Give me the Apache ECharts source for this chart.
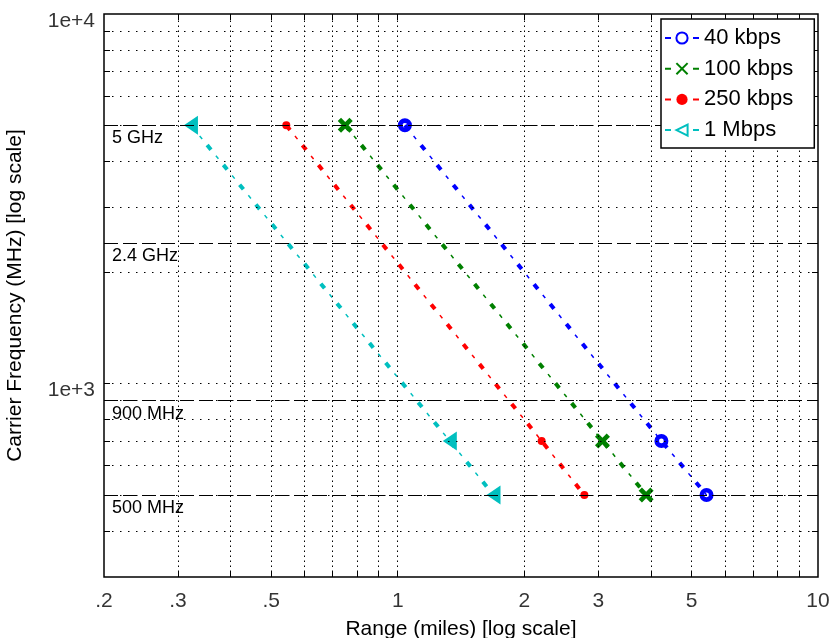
<!DOCTYPE html>
<html>
<head>
<meta charset="utf-8">
<script src="https://cdn.jsdelivr.net/npm/echarts@6/dist/echarts.min.js"></script>
<style>
  html, body { margin: 0; padding: 0; background: #fff; }
  #chart { width: 831px; height: 638px; }
</style>
</head>
<body>
<div id="chart"></div>
<script>
// values
const freqPts = [5000, 700, 500];          // MHz, where the markers sit
const range40k = [1.04, 4.24, 5.43];       // miles
const range100k = [0.75, 3.07, 3.90];
const range250k = [0.543, 2.2, 2.78];
const range1M = [0.322, 1.33, 1.69];

const xTickVals = [0.2, 0.3, 0.5, 1, 2, 3, 5, 10];
const xTickLabels = ['.2', '.3', '.5', '1', '2', '3', '5', '10'];
const yTickVals = [1000, 10000];
const yTickLabels = ['1e+3', '1e+4'];
const xGrid = [0.3, 0.4, 0.5, 0.6, 0.7, 0.8, 0.9, 1, 2, 3, 4, 5, 6, 7, 8, 9];
const yGrid = [400, 500, 600, 700, 800, 900, 1000, 2000, 3000, 4000, 5000, 6000, 7000, 8000, 9000];
const refFreqs = [5000, 2400, 900, 500];
const refLabels = ['5 GHz', '2.4 GHz', '900 MHz', '500 MHz'];

const names = ['40 kbps', '100 kbps', '250 kbps', '1 Mbps'];
const colors = ['#0000ff', '#008000', '#ff0000', '#00bfbf'];
const ranges = [range40k, range100k, range250k, range1M];
const symbols = [
  'path://M0,5A5,5 0 1 0 10,5A5,5 0 1 0 0,5ZM3.3,5A1.7,1.7 0 1 1 6.7,5A1.7,1.7 0 1 1 3.3,5Z',
  'path://M2.2,0L5,2.8L7.8,0L10,2.2L7.2,5L10,7.8L7.8,10L5,7.2L2.2,10L0,7.8L2.8,5L0,2.2Z',
  'circle',
  'path://M0,5L10,0L10,10Z'
];
const symbolSizes = [14, 15, 8, [14, 19]];
// thin symbols used only by the legend
const legendSymbols = [
  'path://M0,5A5,5 0 1 0 10,5A5,5 0 1 0 0,5Z',
  'path://M0,0L10,10M10,0L0,10',
  'circle',
  'path://M0,5L10,0L10,10Z'
];
const legendSizes = [12, 11, 7, [10, 12]];

const FONT = '"Liberation Sans", Arial, Helvetica, sans-serif';
const X_MIN = 0.2, X_MAX = 10, Y_MIN = 300, Y_MAX = 10000;

let chart = echarts.init(document.getElementById('chart'));

let gridLines = xGrid.map(v => ({ xAxis: v, lineStyle: { type: [1.5, 3.5] } }))
  .concat(yGrid.map(v => ({ yAxis: v, lineStyle: { type: [1.5, 6.5] } })));

let series = [];

// legend carriers: first series with each name, no data
names.forEach((n, i) => {
  series.push({
    name: n,
    type: 'line',
    data: [],
    symbol: legendSymbols[i],
    symbolSize: legendSizes[i],
    itemStyle: i === 2
      ? { color: colors[i], borderWidth: 0 }
      : { color: '#fff', borderColor: colors[i], borderWidth: 1.2 },
    lineStyle: { color: colors[i], width: 1.5, type: [6, 22] }
  });
});

// grid lines, reference lines and tick labels
series.push({
  type: 'scatter',
  silent: true,
  symbolSize: 0,
  data: xTickVals.map(v => [v, Y_MIN]),
  label: {
    show: true, position: 'bottom', distance: 14,
    color: '#000', fontSize: 21, fontFamily: FONT,
    formatter: p => xTickLabels[p.dataIndex]
  },
  markLine: {
    silent: true, symbol: 'none',
    label: { show: false },
    lineStyle: { color: '#000', width: 1 },
    data: gridLines
  },
  z: 1
});
series.push({
  type: 'scatter',
  silent: true,
  symbolSize: 0,
  data: yTickVals.map(v => [X_MIN, v]),
  label: {
    show: true, position: 'left', distance: 9, offset: [0, 7],
    color: '#000', fontSize: 21, fontFamily: FONT,
    formatter: p => yTickLabels[p.dataIndex]
  },
  markLine: {
    silent: true, symbol: 'none',
    lineStyle: { color: '#000', width: 1, type: [14, 5] },
    label: {
      show: true, position: 'insideStartBottom', distance: [8, 4],
      color: '#000', fontSize: 18, fontFamily: FONT,
      formatter: p => refLabels[refFreqs.indexOf(p.value)]
    },
    data: refFreqs.map(v => ({ yAxis: v }))
  },
  z: 2
});

names.forEach((n, i) => {
  let pts = ranges[i].map((r, k) => [r, freqPts[k]]);
  // thin dashes between the heavy dots
  series.push({
    type: 'line',
    silent: true,
    showSymbol: false,
    data: pts,
    lineStyle: { color: colors[i], width: 1.5, type: [4, 21.6], dashOffset: 11.8, cap: 'butt' },
    z: 3
  });
  series.push({
    name: n,
    type: 'line',
    data: pts,
    symbol: symbols[i],
    symbolSize: symbolSizes[i],
    showSymbol: true,
    itemStyle: { color: colors[i], borderWidth: 0 },
    lineStyle: { color: colors[i], width: 4, type: [6, 19.6], cap: 'butt' },
    z: 4
  });
});

function logAxis(pos, min, max, ticks, extra) {
  return Object.assign({
    type: 'log', logBase: 10, min: min, max: max, position: pos,
    axisLine: { show: false },
    axisTick: { show: true, inside: true, length: 6, customValues: ticks, lineStyle: { color: '#000', width: 1 } },
    axisLabel: { show: false }, splitLine: { show: false }
  }, extra || {});
}
const titleStyle = { color: '#000', fontSize: 21, fontFamily: FONT };

let option = {
  animation: false,
  backgroundColor: '#fff',
  textStyle: { fontFamily: FONT },
  grid: {
    left: 104, top: 14, right: 13, bottom: 61,
    outerBoundsMode: 'none',
    containLabel: false,
    show: true, borderColor: '#000', borderWidth: 1.5, backgroundColor: 'transparent'
  },
  legend: {
    orient: 'vertical',
    left: 661, top: 19,
    padding: [8, 21, 7, 3],
    backgroundColor: '#fff',
    borderColor: '#000',
    borderWidth: 1.5,
    itemGap: 8.7,
    itemWidth: 34,
    itemHeight: 14,
    textStyle: { color: '#000', fontSize: 22, fontFamily: FONT },
    data: names,
    z: 10
  },
  xAxis: [
    logAxis('bottom', X_MIN, X_MAX, xGrid, {
      name: 'Range (miles) [log scale]',
      nameLocation: 'middle', nameGap: 42, nameTextStyle: titleStyle
    }),
    logAxis('top', X_MIN, X_MAX, xGrid)
  ],
  yAxis: [
    logAxis('left', Y_MIN, Y_MAX, yGrid, {
      name: 'Carrier Frequency (MHz) [log scale]',
      nameLocation: 'middle', nameGap: 78, nameTextStyle: titleStyle
    }),
    logAxis('right', Y_MIN, Y_MAX, yGrid)
  ],
  series: series
};

chart.setOption(option);
</script>
</body>
</html>
